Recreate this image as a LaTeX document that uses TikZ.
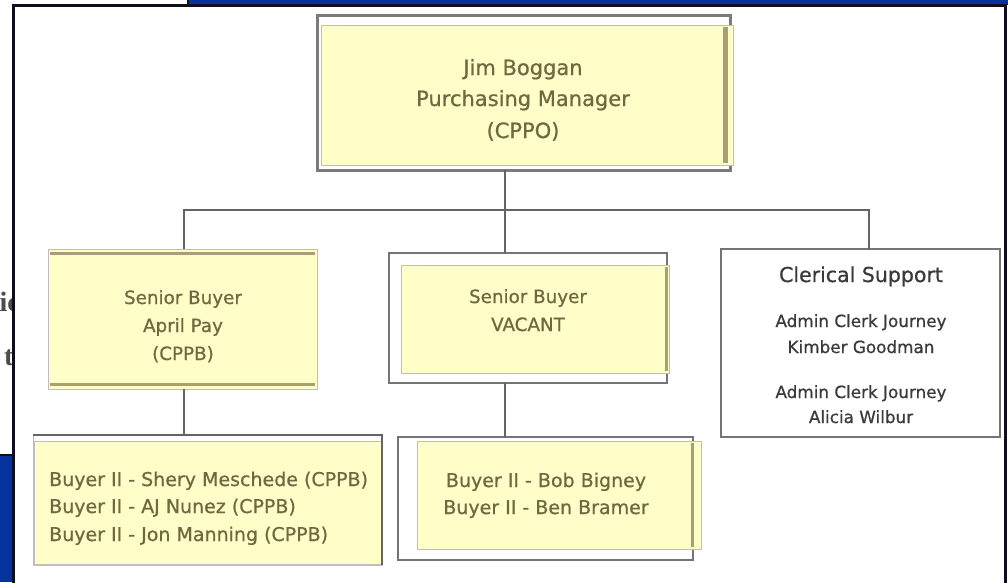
\documentclass[tikz,border=0pt]{standalone}
\usepackage{fontspec}
\setmainfont{DejaVu Sans}[FakeBold=0.7]
\newfontfamily\slideserif{Liberation Serif}
\definecolor{slideblue}{RGB}{6,50,158}
\definecolor{edgeblack}{RGB}{14,14,30}
\definecolor{yel}{RGB}{255,253,200}
\definecolor{olivetxt}{RGB}{112,104,64}
\definecolor{olivebar}{RGB}{168,160,112}
\definecolor{framegray}{RGB}{100,100,100}
\definecolor{thingray}{RGB}{190,190,190}
\definecolor{clertxt}{RGB}{58,58,58}
\newcommand\fsTop{\fontsize{21pt}{25pt}\selectfont}
\newcommand\fsMid{\fontsize{18.3pt}{22pt}\selectfont}
\newcommand\fsLow{\fontsize{19pt}{23pt}\selectfont}
\newcommand\fsClA{\fontsize{20.5pt}{24pt}\selectfont}
\newcommand\fsClB{\fontsize{16.8pt}{20pt}\selectfont}
\begin{document}
\begin{tikzpicture}[x=1pt,y=-1pt,
  frame/.style={draw=framegray,line width=2.5pt,inner sep=0pt,outer sep=0pt,fill=white},
  ybox/.style={fill=yel,draw=thingray,line width=0.8pt,inner sep=0pt,outer sep=0pt},
  conn/.style={draw=framegray,line width=2pt},
  lbl/.style={text=olivetxt,inner sep=0pt,anchor=base},
  clbl/.style={text=clertxt,inner sep=0pt,anchor=base},
  bar/.style={fill=olivebar}]
\useasboundingbox (0,0) rectangle (1008,582);
% slide background
\fill[slideblue] (0,0) rectangle (1008,582);
\draw[fill=white,draw=edgeblack,line width=2.5pt] (-10,-10) rectangle (188,455);
\node[text=black!70,font=\slideserif\bfseries\fontsize{28pt}{30pt}\selectfont,inner sep=0pt,anchor=base west] (sl1) at (-0.5,311) {ic};
\node[text=black!70,font=\slideserif\bfseries\fontsize{28pt}{30pt}\selectfont,inner sep=0pt,anchor=base west] (sl2) at (4,365) {t};
% picture area
\fill[white] (1006.5,5) rectangle (1010,590);
\draw[fill=white,draw=edgeblack,line width=3pt] (13.5,5) rectangle (1005.5,600);
% connector junctions
\coordinate (jn) at (505,210);
\coordinate (hl) at (184,210);
\coordinate (hr) at (869,210);
% top box
\node[frame,minimum width=413pt,minimum height=155pt,line width=3pt,draw=framegray!85] (bossf) at (523.5,92.5) {};
\node[ybox,minimum width=412pt,minimum height=140pt] (boss) at (527,95) {};
\fill[bar] (722.5,27) rectangle (728,163);
\node[lbl,font=\fsTop] (t1) at (523,75) {Jim Boggan};
\node[lbl,font=\fsTop] (t2) at (523,106) {Purchasing Manager};
\node[lbl,font=\fsTop] (t3) at (523,138) {(CPPO)};
% level 2
\node[frame,minimum width=278pt,minimum height=130pt,draw=framegray!90] (sb2f) at (528,318) {};
\node[frame,minimum width=279pt,minimum height=188pt,line width=2pt,draw=framegray!90] (cler) at (860.5,343) {};
\node[ybox,minimum width=269pt,minimum height=140pt] (sb1) at (182.5,319) {};
% level 3
\node[draw=thingray,line width=1pt,fill=white,minimum width=349pt,minimum height=130pt,inner sep=0pt,outer sep=0pt] (b1f) at (207.5,500) {};
\node[frame,minimum width=295pt,minimum height=123pt,draw=framegray!90] (b2f) at (545.5,498.5) {};
% connectors
\draw[conn] (bossf.south -| jn) -- (jn);
\draw[conn] (sb1.north -| hl) -- (hl) -- (hr) -- (hr |- cler.north);
\draw[conn] (jn) -- (sb2f.north -| jn);
\draw[conn] (sb1.south -| hl) -- (b1f.north -| hl);
\draw[conn] (sb2f.south -| jn) -- (b2f.north -| jn);
% senior buyer april pay
\fill[bar] (50,251.5) rectangle (315,255);
\fill[bar] (50,382.5) rectangle (315,386);
\node[lbl,font=\fsMid] (a1) at (183,304) {Senior Buyer};
\node[lbl,font=\fsMid] (a2) at (183,332) {April Pay};
\node[lbl,font=\fsMid] (a3) at (183,360) {(CPPB)};
% senior buyer vacant
\node[ybox,minimum width=268pt,minimum height=108pt] (sb2) at (535,319) {};
\fill[bar] (664.5,267) rectangle (667.5,371);
\node[lbl,font=\fsMid] (v1) at (528,303) {Senior Buyer};
\node[lbl,font=\fsMid] (v2) at (528,331) {VACANT};
% clerical
\node[clbl,font=\fsClA] (c1) at (861,282) {Clerical Support};
\node[clbl,font=\fsClB] (c2) at (861,327) {Admin Clerk Journey};
\node[clbl,font=\fsClB] (c3) at (861,353) {Kimber Goodman};
\node[clbl,font=\fsClB] (c4) at (861,398) {Admin Clerk Journey};
\node[clbl,font=\fsClB] (c5) at (861,423) {Alicia Wilbur};
% bottom left
\node[ybox,minimum width=347pt,minimum height=123pt] (b1) at (207.5,502.5) {};
\draw[draw=framegray,line width=2.5pt] (b1f.north west) -- (b1f.north east) -- (b1f.south east);
\node[lbl,font=\fsLow,anchor=base west] (d1) at (49,486) {Buyer II - Shery Meschede (CPPB)};
\node[lbl,font=\fsLow,anchor=base west] (d2) at (49,513) {Buyer II - AJ Nunez (CPPB)};
\node[lbl,font=\fsLow,anchor=base west] (d3) at (49,541) {Buyer II - Jon Manning (CPPB)};
% bottom middle
\node[ybox,minimum width=284pt,minimum height=108pt] (b2) at (559,495) {};
\fill[bar] (690.5,443) rectangle (693.5,547);
\node[lbl,font=\fsLow] (e1) at (546,487) {Buyer II - Bob Bigney};
\node[lbl,font=\fsLow] (e2) at (546,514) {Buyer II - Ben Bramer};
\end{tikzpicture}
\end{document}
